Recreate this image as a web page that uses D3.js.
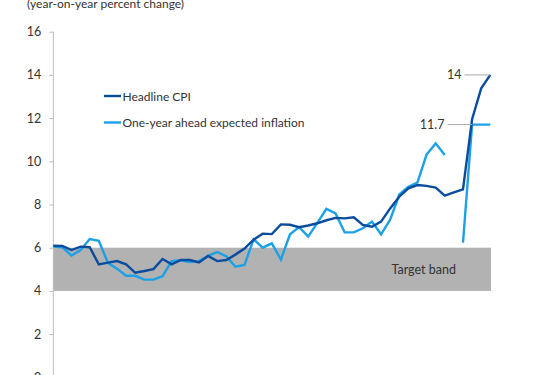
<!DOCTYPE html>
<html>
<head>
<meta charset="utf-8">
<script src="https://cdn.jsdelivr.net/npm/d3@7"></script>
<style>
  html, body { margin: 0; padding: 0; background: #fff; }
  svg { display: block; font-family: Lato, "Open Sans", sans-serif; }
</style>
</head>
<body>
<div id="chart"></div>
<script>
// ---- data ----
const periods = d3.range(49); // quarterly observations, left to right
const headlineCPI = [6.09, 6.08, 5.89, 6.05, 6.02, 5.23, 5.31, 5.38, 5.23, 4.84,
  4.92, 5.01, 5.48, 5.23, 5.43, 5.43, 5.32, 5.62, 5.38, 5.43,
  5.68, 5.96, 6.37, 6.65, 6.63, 7.08, 7.06, 6.95, 7.03, 7.13,
  7.27, 7.38, 7.36, 7.41, 7.06, 6.97, 7.21, 7.82, 8.36, 8.75,
  8.90, 8.86, 8.78, 8.41, 8.56, 8.70, 11.95, 13.38, 14.0];
const expectedInflation = [6.05, 6.02, 5.64, 5.89, 6.40, 6.32, 5.30, 5.03, 4.70, 4.70,
  4.52, 4.52, 4.68, 5.38, 5.42, 5.34, 5.38, 5.62, 5.80, 5.60,
  5.12, 5.20, 6.39, 6.00, 6.20, 5.45, 6.62, 6.95, 6.51, 7.15,
  7.80, 7.59, 6.71, 6.71, 6.90, 7.21, 6.62, 7.30, 8.46, 8.82,
  9.02, 10.31, 10.83, 10.29, null, 6.23, 11.7, 11.7, 11.7];
const yTicks = [0, 2, 4, 6, 8, 10, 12, 14, 16];
const targetBand = [4, 6];
const seriesNames = ["Headline CPI", "One-year ahead expected inflation"];
const endLabels = [{ label: "14", value: 14.0, atIndex: 48 }, { label: "11.7", value: 11.7, atIndex: 46 }];
const yTitle = "(year-on-year percent change)";

// ---- layout ----
const W = 539, H = 375;
const colors = ["#0b4c9e", "#1ba1e6"];
const svg = d3.select("#chart").append("svg").attr("width", W).attr("height", H);

const x = d3.scaleLinear().domain([0, periods.length - 1]).range([53.3, 490.3]);
const y = d3.scaleLinear().domain([0, 16]).range([377.3, 31.7]);

// target band
svg.append("rect")
  .attr("x", 53.3).attr("width", 491 - 53.3)
  .attr("y", y(targetBand[1])).attr("height", y(targetBand[0]) - y(targetBand[1]))
  .attr("fill", "#b2b2b2");
svg.append("text")
  .attr("x", 391.5).attr("y", y(5) + 5)
  .attr("font-size", 12.5).attr("fill", "#333")
  .text("Target band");

// y axis
const yAxis = d3.axisLeft(y).tickValues(yTicks).tickSize(4).tickPadding(8).tickFormat(d3.format("d"));
const gy = svg.append("g").attr("transform", "translate(53.3,0)").call(yAxis);
gy.select(".domain").attr("stroke", "#bdbdbd").attr("d", `M0,${y(16)}V${y(0) + 10}`);
gy.selectAll(".tick line").attr("stroke", "#bdbdbd");
gy.selectAll(".tick text").attr("font-size", 12.5).attr("fill", "#333")
  .attr("font-family", "Lato, 'Open Sans', sans-serif");

// title
svg.append("text").attr("x", 27).attr("y", 7.5)
  .attr("font-size", 12).attr("fill", "#333").text(yTitle);

// lines
const line = d3.line()
  .defined(d => d != null)
  .x((d, i) => x(periods[i]))
  .y(d => y(d));

svg.append("path").datum(expectedInflation)
  .attr("fill", "none").attr("stroke", colors[1]).attr("stroke-width", 2.4)
  .attr("stroke-linejoin", "miter").attr("d", line);
svg.append("path").datum(headlineCPI)
  .attr("fill", "none").attr("stroke", colors[0]).attr("stroke-width", 2.4)
  .attr("stroke-linejoin", "miter").attr("d", line);

// end labels with leader lines
const labelPos = [{ textX: 461.5, lineX1: 464.5 }, { textX: 444.5, lineX1: 447.5 }];
endLabels.forEach((l, i) => {
  svg.append("line")
    .attr("x1", labelPos[i].lineX1).attr("x2", x(periods[l.atIndex]))
    .attr("y1", y(l.value)).attr("y2", y(l.value))
    .attr("stroke", "#aaa").attr("stroke-width", 1);
  svg.append("text")
    .attr("x", labelPos[i].textX).attr("y", y(l.value) + 4.5)
    .attr("text-anchor", "end").attr("font-size", 12.5).attr("fill", "#333")
    .text(l.label);
});

// legend
const legend = svg.append("g");
seriesNames.forEach((name, i) => {
  const ly = 96 + i * 26.5;
  legend.append("line").attr("x1", 104).attr("x2", 121).attr("y1", ly).attr("y2", ly)
    .attr("stroke", colors[i]).attr("stroke-width", 2.4);
  legend.append("text").attr("x", 122.5).attr("y", ly + 4.5)
    .attr("font-size", 12).attr("fill", "#333").text(name);
});
</script>
</body>
</html>
